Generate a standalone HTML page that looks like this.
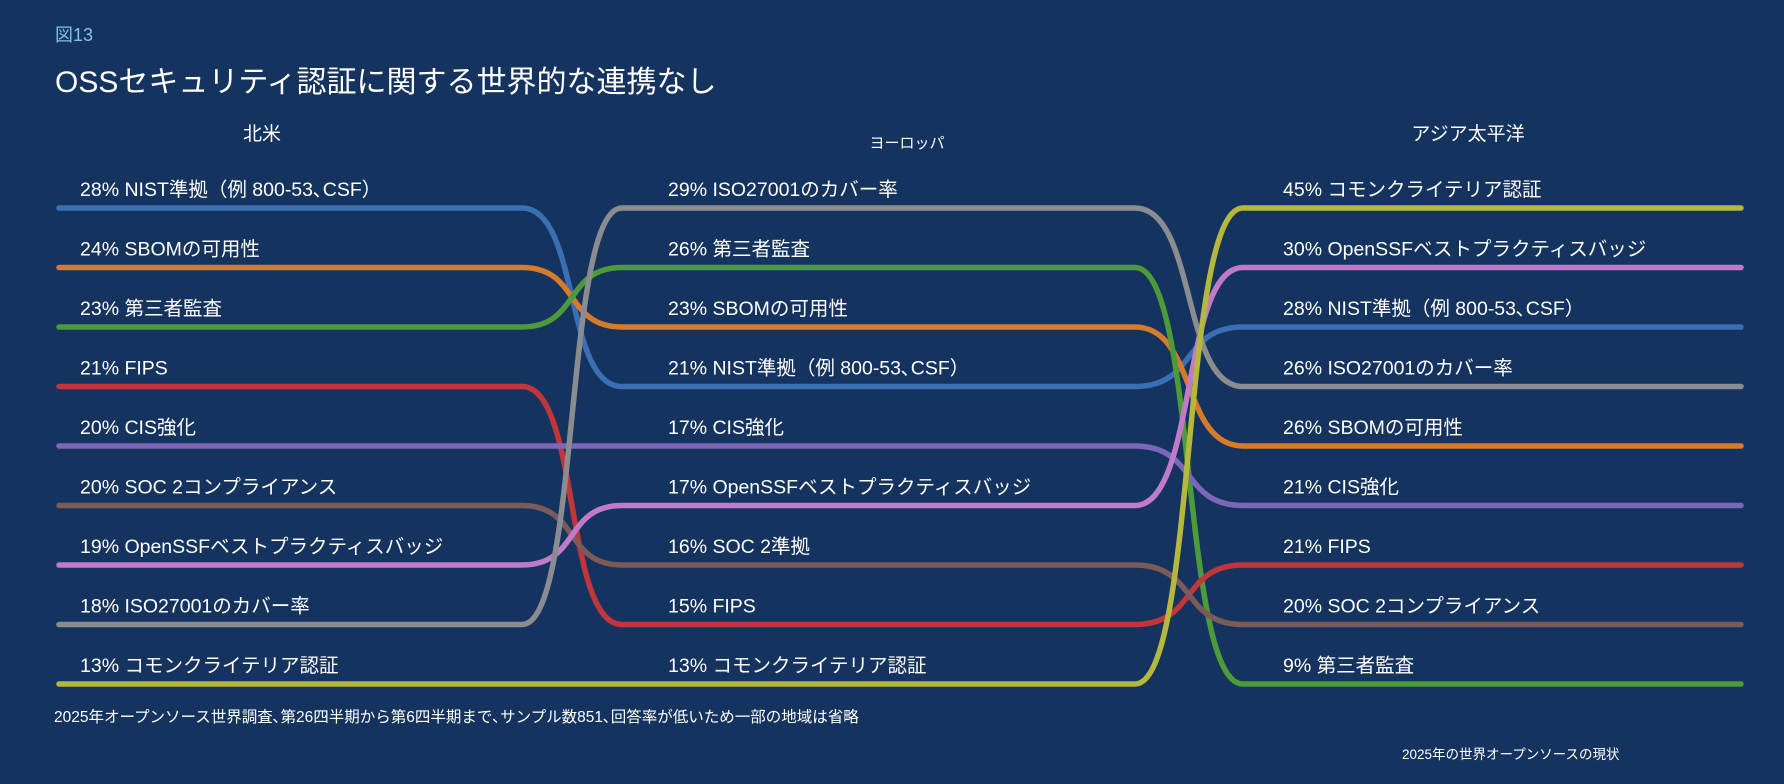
<!DOCTYPE html>
<html><head><meta charset="utf-8">
<style>
html,body{margin:0;padding:0;background:#15335f;}
svg{display:block;}
text{font-family:"Liberation Sans","Noto Sans CJK JP",sans-serif;fill:#ffffff;}
</style></head>
<body>
<svg id="chart" width="1784" height="784" viewBox="0 0 1784 784">
<rect x="0" y="0" width="1784" height="784" fill="#15335f"/>
<text x="55" y="41" font-size="18" style="fill:#7fc4ea">図13</text>
<text x="55" y="92" font-size="30">OSSセキュリティ認証に関する世界的な連携なし</text>
<text x="262" y="140" font-size="19" text-anchor="middle">北米</text>
<text x="907" y="148" font-size="15" text-anchor="middle">ヨーロッパ</text>
<text x="1468" y="140" font-size="19" text-anchor="middle">アジア太平洋</text>
<g id="lines"></g>
<g id="labels"></g>
<text x="54" y="722" font-size="15.5">2025年オープンソース世界調査､第26四半期から第6四半期まで､サンプル数851､回答率が低いため一部の地域は省略</text>
<text x="1402" y="759" font-size="13.5">2025年の世界オープンソースの現状</text>
</svg>
<script>
const categories = ["NIST","SBOM","THIRD","FIPS","CIS","SOC2","OPENSSF","ISO","CC"];
const colors = {NIST:"#3a6fb3",SBOM:"#d67a2c",THIRD:"#4c9a3a",FIPS:"#c0363a",CIS:"#7c66b8",SOC2:"#7a5b5a",OPENSSF:"#c07ac8",ISO:"#8a8c8f",CC:"#b4b83c"};
const naOrder = ["NIST","SBOM","THIRD","FIPS","CIS","SOC2","OPENSSF","ISO","CC"];
const naValues = [28,24,23,21,20,20,19,18,13];
const naNames = ["NIST準拠（例 800-53､CSF）","SBOMの可用性","第三者監査","FIPS","CIS強化","SOC 2コンプライアンス","OpenSSFベストプラクティスバッジ","ISO27001のカバー率","コモンクライテリア認証"];
const euOrder = ["ISO","THIRD","SBOM","NIST","CIS","OPENSSF","SOC2","FIPS","CC"];
const euValues = [29,26,23,21,17,17,16,15,13];
const euNames = ["ISO27001のカバー率","第三者監査","SBOMの可用性","NIST準拠（例 800-53､CSF）","CIS強化","OpenSSFベストプラクティスバッジ","SOC 2準拠","FIPS","コモンクライテリア認証"];
const apOrder = ["CC","OPENSSF","NIST","ISO","SBOM","CIS","FIPS","SOC2","THIRD"];
const apValues = [45,30,28,26,26,21,21,20,9];
const apNames = ["コモンクライテリア認証","OpenSSFベストプラクティスバッジ","NIST準拠（例 800-53､CSF）","ISO27001のカバー率","SBOMの可用性","CIS強化","FIPS","SOC 2コンプライアンス","第三者監査"];

const NS="http://www.w3.org/2000/svg";
function slotY(i){return 208+i*59.5;}
const X={a0:59,a1:522,b0:622,b1:1135,c0:1243,c1:1741};
const lines=document.getElementById('lines');
const labels=document.getElementById('labels');
categories.forEach(c=>{
  const y1=slotY(naOrder.indexOf(c)), y2=slotY(euOrder.indexOf(c)), y3=slotY(apOrder.indexOf(c));
  const m1=(X.a1+X.b0)/2, m2=(X.b1+X.c0)/2;
  const d=`M${X.a0},${y1} L${X.a1},${y1} C${m1+8},${y1} ${m1-8},${y2} ${X.b0},${y2} L${X.b1},${y2} C${m2+8},${y2} ${m2-8},${y3} ${X.c0},${y3} L${X.c1},${y3}`;
  const p=document.createElementNS(NS,'path');
  p.setAttribute('d',d);p.setAttribute('fill','none');p.setAttribute('stroke',colors[c]);
  p.setAttribute('stroke-width','5.5');p.setAttribute('stroke-linecap','round');
  
  
  lines.appendChild(p);
});
function addLabels(order,vals,names,x,region){
  order.forEach((c,i)=>{
    const t=document.createElementNS(NS,'text');
    t.setAttribute('x',x);t.setAttribute('y',slotY(i)-12);t.setAttribute('font-size','19.5');
    t.textContent=vals[i]+'% '+names[i];
    
    
    labels.appendChild(t);
  });
}
addLabels(naOrder,naValues,naNames,80,'na');
addLabels(euOrder,euValues,euNames,668,'eu');
addLabels(apOrder,apValues,apNames,1283,'ap');
</script>
</body></html>
